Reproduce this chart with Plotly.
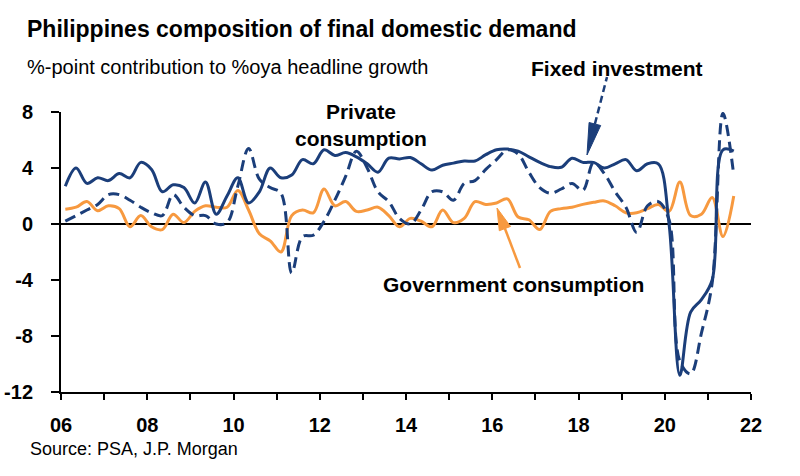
import plotly.graph_objects as go

# quarterly data, 2006Q1 - 2021Q3
quarters = [f"{y}Q{q}" for y in range(2006, 2022) for q in range(1, 5)][:63]

private_consumption = [
    2.7, 4.0, 2.9, 3.3,
    3.1, 3.6, 3.3, 4.4,
    3.9, 2.3, 2.8, 2.6,
    1.5, 3.0, 0.7, 2.0,
    3.3, 1.5, 2.3, 4.0,
    3.3, 3.5, 4.6, 4.3,
    5.3, 4.9, 5.1, 4.8,
    4.3, 3.7, 4.7, 4.65,
    4.75, 4.3, 3.85, 4.2,
    4.35, 4.5, 4.5, 4.95,
    5.3, 5.35, 5.2, 4.8,
    4.4, 4.1, 4.05, 4.7,
    4.4, 4.4, 4.0, 4.3,
    4.6, 3.8, 4.3, 4.3,
    0.0, -10.8, -6.3, -5.4,
    -4.0, 5.3, 5.2,
]

fixed_investment = [
    0.2, 0.6, 1.0, 1.4,
    2.1, 2.1, 1.7, 1.2,
    0.8, 0.6, 2.1, 1.2,
    0.6, 0.6, 0.0, 0.1,
    2.7, 5.4, 3.2, 2.6,
    2.2, -3.5, -0.9, -0.8,
    0.2, 1.7, 3.4, 5.2,
    4.0, 2.3, 1.6, 0.4,
    0.0, 1.0, 2.3, 2.3,
    1.7, 2.9, 3.1, 3.9,
    4.6, 5.3, 5.0, 3.7,
    2.6, 2.2, 2.5, 2.9,
    2.4, 4.4, 3.6, 2.3,
    1.2, -0.6, 1.3, 1.6,
    0.3, -9.8, -10.7, -7.8,
    -4.2, 7.9, 3.5,
]

government_consumption = [
    1.05, 1.2, 1.6, 0.95,
    1.3, 1.1, -0.2, 0.6,
    -0.2, -0.4, 0.7, 0.1,
    0.9, 1.3, 1.2, 1.2,
    2.4, 1.0, -0.7, -1.2,
    -2.0, 0.6, 1.0, 0.8,
    2.5, 1.3, 1.6, 0.9,
    1.0, 1.2, 0.6, -0.2,
    0.4, 0.2, -0.2, 1.0,
    0.1, 0.4, 1.6, 1.4,
    1.5, 1.8, 0.5, 0.3,
    -0.4, 0.9, 1.1, 1.2,
    1.4, 1.55, 1.65, 1.3,
    0.8, 0.8, 1.1, 1.4,
    0.9, 3.0, 0.6, 0.7,
    1.9, -0.9, 2.0,
]

year_ticks = list(range(2006, 2023))
year_labels = [str(y)[2:] if y % 2 == 0 else "" for y in year_ticks]
y_ticks = [-12, -8, -4, 0, 4, 8]
y_labels = [str(v) for v in y_ticks]

NAVY = "#1B3E7A"
ORANGE = "#F7993F"
FONT = "Arial, Liberation Sans, sans-serif"

# position of each quarter on the year axis
x = [int(q[:4]) + (int(q[-1]) - 1) * 0.25 + 0.1 for q in quarters]

fig = go.Figure()
fig.add_trace(go.Scatter(x=x, y=government_consumption, mode="lines",
                         line=dict(color=ORANGE, width=3, shape="spline", smoothing=1),
                         name="Government consumption"))
fig.add_trace(go.Scatter(x=x, y=fixed_investment, mode="lines",
                         line=dict(color=NAVY, width=3, dash="11px,6px", shape="spline", smoothing=1),
                         name="Fixed investment"))
fig.add_trace(go.Scatter(x=x, y=private_consumption, mode="lines",
                         line=dict(color=NAVY, width=3, shape="spline", smoothing=1),
                         name="Private consumption"))

fig.update_xaxes(range=[2006, 2022], tickvals=year_ticks, ticktext=year_labels,
                 ticks="outside", ticklen=6, tickwidth=2, tickcolor="black",
                 showline=True, linewidth=2, linecolor="black", showgrid=False,
                 zeroline=False, ticklabelstandoff=8, automargin=False,
                 tickfont=dict(family=FONT, size=20, color="black", weight="bold"))
fig.update_yaxes(range=[-12, 8], tickvals=y_ticks, ticktext=y_labels,
                 ticks="outside", ticklen=8, tickwidth=2, tickcolor="black",
                 showline=True, linewidth=2, linecolor="black", showgrid=False,
                 zeroline=True, zerolinecolor="black", zerolinewidth=2,
                 ticklabelstandoff=14, automargin=False,
                 tickfont=dict(family=FONT, size=20, color="black", weight="bold"))


def note(text, px, py, size, bold, anchor="left"):
    fig.add_annotation(text=text, xref="paper", yref="paper", x=px, y=py,
                       xanchor=anchor, yanchor="middle", showarrow=False,
                       font=dict(family=FONT, size=size, color="black",
                                 weight="bold" if bold else "normal"))


note("Philippines composition of final domestic demand", -0.0522, 1.297, 23, True)
note("%-point contribution to %oya headline growth", -0.0522, 1.162, 20, False)
note("Source: PSA, J.P. Morgan", -0.0478, -0.205, 18, False)
note("Fixed investment", 0.8054, 1.157, 21, True, "center")
note("Private<br>consumption", 0.4348, 0.955, 21, True, "center")
note("Government consumption", 0.6565, 0.383, 21, True, "center")

# arrows: stem + head, in pixels around the tip
fixed_tip = (0.7623, 0.8464)
gov_tip = (0.6319, 0.657)
fig.add_shape(type="line", xref="paper", yref="paper", xsizemode="pixel", ysizemode="pixel",
              xanchor=fixed_tip[0], yanchor=fixed_tip[1], x0=7.9, y0=31, x1=20, y1=78,
              line=dict(color=NAVY, width=2.5, dash="7px,4px"))
fig.add_shape(type="path", xref="paper", yref="paper", xsizemode="pixel", ysizemode="pixel",
              xanchor=fixed_tip[0], yanchor=fixed_tip[1],
              path="M0,0 L13.7,29.5 L2.1,32.5 Z", fillcolor=NAVY, line=dict(color=NAVY, width=1))
fig.add_shape(type="line", xref="paper", yref="paper", xsizemode="pixel", ysizemode="pixel",
              xanchor=gov_tip[0], yanchor=gov_tip[1], x0=7.9, y0=-20.5, x1=23, y1=-60,
              line=dict(color=ORANGE, width=2.5))
fig.add_shape(type="path", xref="paper", yref="paper", xsizemode="pixel", ysizemode="pixel",
              xanchor=gov_tip[0], yanchor=gov_tip[1],
              path="M0,0 L13.5,-18.4 L2.3,-22.7 Z", fillcolor=ORANGE, line=dict(color=ORANGE, width=1))

fig.update_layout(width=800, height=476, showlegend=False,
                  margin=dict(l=61, r=49, t=112, b=84),
                  plot_bgcolor="white", paper_bgcolor="white",
                  font=dict(family=FONT, color="black"))

fig.write_html("out.html", config={"displayModeBar": False},
               post_script="document.body.style.margin='0';")
